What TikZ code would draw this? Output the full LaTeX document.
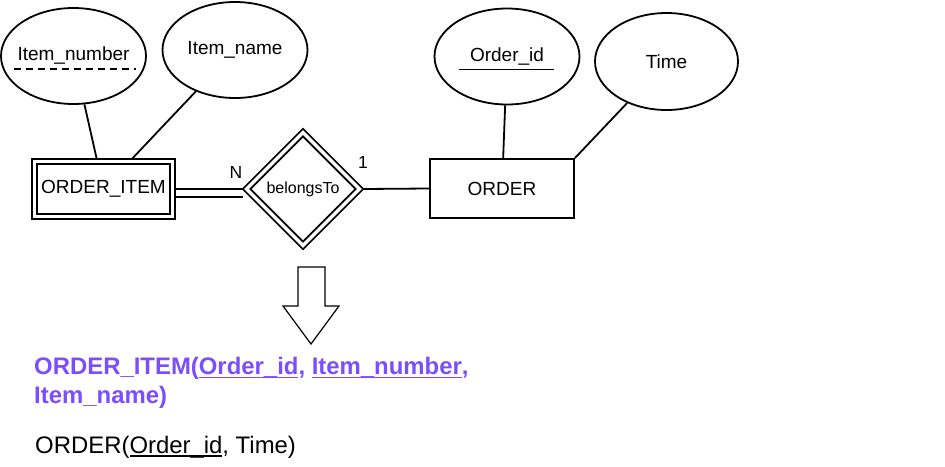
\documentclass[tikz,border=0pt]{standalone}
\usepackage{fontspec}
\setmainfont{Liberation Sans}
\usepackage{tikz}
\usetikzlibrary{shapes.geometric}
\definecolor{keypurple}{HTML}{7C4DFF}
\newcommand{\keyul}[1]{\setbox0=\hbox{#1}\rlap{\rule[-3.5pt]{\wd0}{1.6pt}}\box0}

\begin{document}
\begin{tikzpicture}[
    x=1pt,y=-1pt,
    line width=1.8pt,
    attr/.style={draw,ellipse,minimum width=145pt,minimum height=96pt,inner sep=0pt,inner xsep=-25pt,font=\fontsize{19}{23}\selectfont},
    entity/.style={draw,minimum width=144pt,minimum height=59pt,font=\fontsize{19}{23}\selectfont},
    weakentity/.style={draw,double,double distance=3.6pt,minimum width=138pt,minimum height=55pt,outer sep=3pt,font=\fontsize{19}{23}\selectfont},
    weakrel/.style={draw,diamond,double,double distance=3.4pt,minimum width=115pt,minimum height=115pt,inner sep=0pt,outer sep=2.6pt,font=\fontsize{16}{19}\selectfont},
    card/.style={font=\fontsize{17.5}{20}\selectfont},
    keyline/.style={line width=1.8pt},
    ]
    \useasboundingbox (0,0) rectangle (945,466);
    \node[attr] (inum) at (73.5,56) {Item\_number};
    \node[attr] (iname) at (235,50) {Item\_name};
    \node[weakentity] (oi) at (103.5,189) {ORDER\_ITEM};
    \node[weakrel] (rel) at (303,189) {belongsTo};
    \node[entity] (ord) at (502,188.5) {ORDER};
    \node[attr] (oid) at (507,56.5) {Order\_id};
    \node[attr,minimum width=143pt,minimum height=97pt] (tm) at (666.5,61.5) {Time};
    \node[card] (n) at (236,172) {N};
    \node[card] (one) at (363,162) {1};
    \draw (inum) -- (oi);
    \draw (iname) -- (oi);
    \draw (oid) -- (ord);
    \draw (tm) -- (ord.north east);
    \draw[double,double distance=5.6pt] ([yshift=-4pt]oi.east) -- ([yshift=-4pt]rel.west);
    \draw (rel.east) -- (ord.west);
    \draw[keyline,dash pattern=on 7pt off 5pt] ([xshift=-60pt,yshift=-13pt]inum.center) -- ([xshift=62pt,yshift=-13pt]inum.center);
    \draw[keyline] ([xshift=-48pt,yshift=-13pt]oid.center) -- ([xshift=47pt,yshift=-13pt]oid.center);
    \draw[line width=1.2pt] (298,267) -- (325,267) -- (325,306) -- (339,306) -- (311,344) -- (283,306) -- (298,306) -- cycle;
    \node[anchor=west,align=left,text=keypurple,font=\bfseries\fontsize{23.9}{29}\selectfont] (weakrow) at (30,383) {ORDER\_ITEM(\keyul{Order\_id}, \keyul{Item\_number},\\Item\_name)};
    \node[anchor=west,font=\fontsize{23.9}{29}\selectfont] (ownerrow) at (31,447) {ORDER(\keyul{Order\_id}, Time)};
\end{tikzpicture}
\end{document}
